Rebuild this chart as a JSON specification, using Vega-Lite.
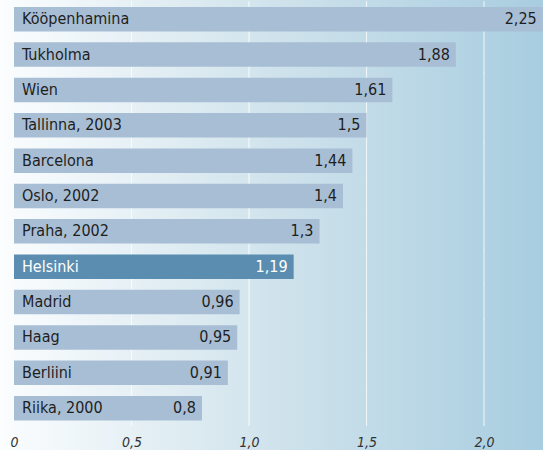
{
  "$schema": "https://vega.github.io/schema/vega-lite/v6.json",
  "width": 543,
  "height": 450,
  "padding": 0,
  "autosize": {"type": "none"},
  "config": {
    "view": {"stroke": null},
    "font": "DejaVu Sans Condensed, DejaVu Sans, sans-serif"
  },
  "datasets": {
    "cities": [
      {"city": "Kööpenhamina", "v": 2.25},
      {"city": "Tukholma", "v": 1.88},
      {"city": "Wien", "v": 1.61},
      {"city": "Tallinna, 2003", "v": 1.5},
      {"city": "Barcelona", "v": 1.44},
      {"city": "Oslo, 2002", "v": 1.4},
      {"city": "Praha, 2002", "v": 1.3},
      {"city": "Helsinki", "v": 1.19},
      {"city": "Madrid", "v": 0.96},
      {"city": "Haag", "v": 0.95},
      {"city": "Berliini", "v": 0.91},
      {"city": "Riika, 2000", "v": 0.8}
    ],
    "bg": [{"k": 1}]
  },
  "layer": [
    {
      "data": {"name": "bg"},
      "mark": {"type": "rect",
        "fill": {"gradient": "linear", "x1": 0, "y1": 0, "x2": 1, "y2": 0,
          "stops": [{"offset": 0, "color": "#fbfdfe"}, {"offset": 0.5, "color": "#d0e3ec"}, {"offset": 1, "color": "#a8cde0"}]}},
      "encoding": {}
    },
    {
      "data": {"name": "cities"},
      "mark": {"type": "tick", "orient": "vertical", "color": "#ffffff", "thickness": 1.2, "size": 35.8},
      "encoding": {
        "x": {"datum": 0.5, "type": "quantitative",
          "scale": {"domain": [-0.0596, 2.251], "nice": false, "zero": false},
          "axis": {"values": [0, 0.5, 1, 1.5, 2], "grid": false, "domain": false, "ticks": false, "title": null,
            "zindex": 2,
            "offset": -22, "labelPadding": 7, "labelFontSize": 14, "labelFontStyle": "italic",
            "labelColor": "#333333", "labelFont": "DejaVu Sans Condensed, DejaVu Sans, sans-serif",
            "labelExpr": "datum.value == 0 ? '0' : replace(format(datum.value, '.1f'), '.', ',')"}},
        "y": {"field": "city", "type": "nominal",
          "scale": {"domain": ["Kööpenhamina", "Tukholma", "Wien", "Tallinna, 2003", "Barcelona", "Oslo, 2002", "Praha, 2002", "Helsinki", "Madrid", "Haag", "Berliini", "Riika, 2000"],
            "paddingInner": 0.307, "paddingOuter": 0.516, "align": 0.19},
          "axis": null}
      }
    },
    {
      "data": {"name": "cities"},
      "mark": {"type": "tick", "orient": "vertical", "color": "#ffffff", "thickness": 1.2, "size": 35.8},
      "encoding": {
        "x": {"datum": 1.0, "type": "quantitative"},
        "y": {"field": "city", "type": "nominal"}
      }
    },
    {
      "data": {"name": "cities"},
      "mark": {"type": "tick", "orient": "vertical", "color": "#ffffff", "thickness": 1.2, "size": 35.8},
      "encoding": {
        "x": {"datum": 1.5, "type": "quantitative"},
        "y": {"field": "city", "type": "nominal"}
      }
    },
    {
      "data": {"name": "cities"},
      "mark": {"type": "tick", "orient": "vertical", "color": "#ffffff", "thickness": 1.2, "size": 35.8},
      "encoding": {
        "x": {"datum": 2.0, "type": "quantitative"},
        "y": {"field": "city", "type": "nominal"}
      }
    },
    {
      "data": {"name": "cities"},
      "mark": {"type": "bar"},
      "encoding": {
        "x": {"field": "v", "type": "quantitative"},
        "x2": {"datum": 0},
        "y": {"field": "city", "type": "nominal"},
        "color": {"condition": {"test": "datum.city === 'Helsinki'", "value": "#5b8db0"}, "value": "#a8bed5"}
      }
    },
    {
      "data": {"name": "cities"},
      "mark": {"type": "text", "align": "left", "dx": 8, "fontSize": 16, "baseline": "middle"},
      "encoding": {
        "x": {"datum": 0},
        "y": {"field": "city", "type": "nominal"},
        "text": {"field": "city"},
        "color": {"condition": {"test": "datum.city === 'Helsinki'", "value": "#ffffff"}, "value": "#1e1e1e"}
      }
    },
    {
      "data": {"name": "cities"},
      "mark": {"type": "text", "align": "right", "dx": -6, "fontSize": 16, "baseline": "middle",
        "text": {"expr": "replace(format(datum.v, '~g'), '.', ',')"}},
      "encoding": {
        "x": {"field": "v", "type": "quantitative"},
        "y": {"field": "city", "type": "nominal"},
        "color": {"condition": {"test": "datum.city === 'Helsinki'", "value": "#ffffff"}, "value": "#1e1e1e"}
      }
    }
  ]
}
